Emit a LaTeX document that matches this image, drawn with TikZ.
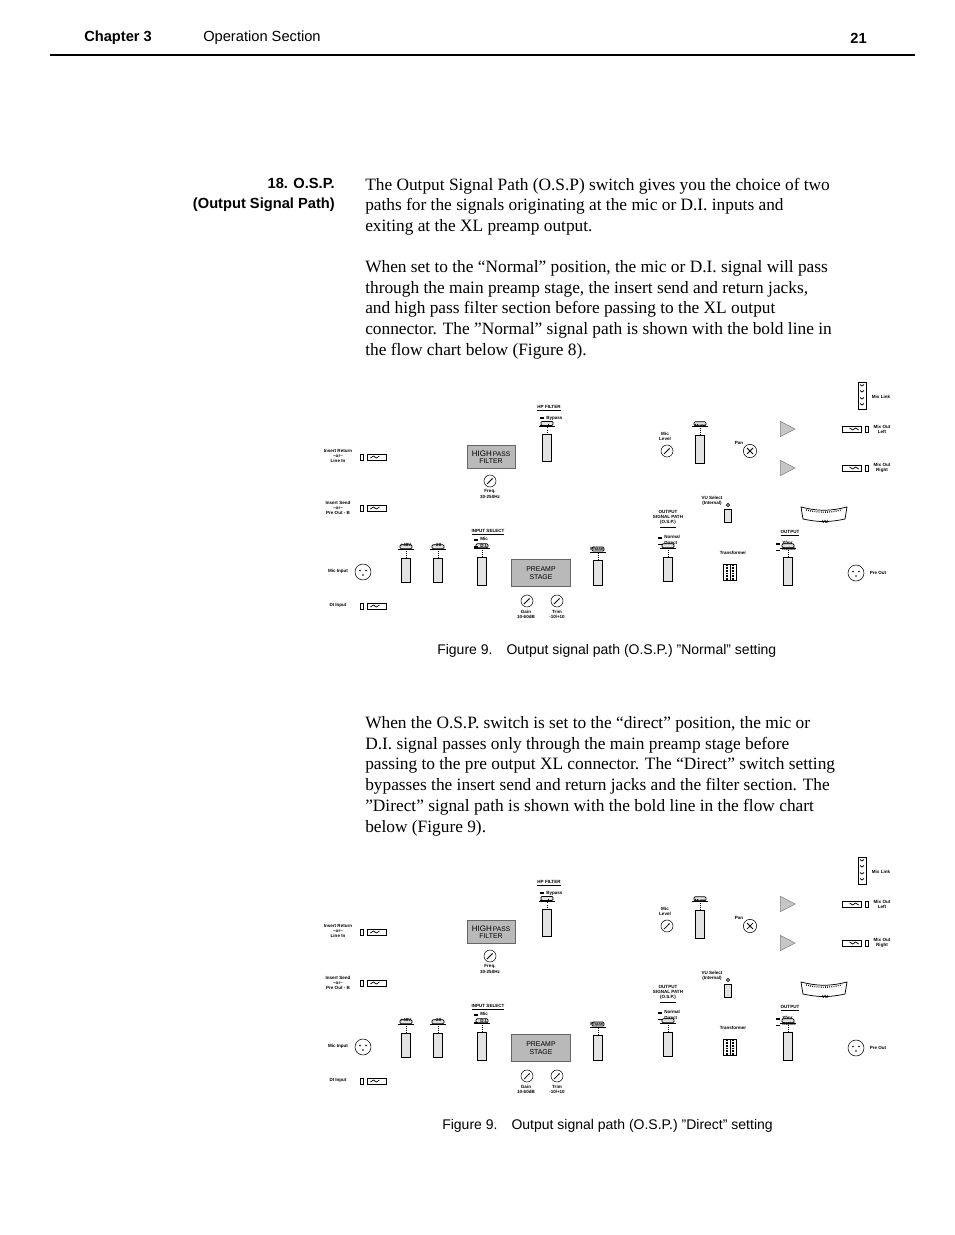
\documentclass[tikz,border=0pt]{standalone}
\usepackage{fontspec}
\setmainfont{Liberation Serif}
\setsansfont{Liberation Sans}
\usetikzlibrary{calc,arrows.meta,decorations.markings,shapes.geometric,backgrounds}

\tikzset{
  bold/.style={line width=2.6pt},
  thin/.style={line width=0.55pt},
  arr/.style={postaction={decorate,decoration={markings,mark=at position #1 with {\arrow{Triangle[length=7pt,width=7pt]}}}}},
  sw/.style={draw,line width=0.4pt,fill=gray!22,inner sep=0pt,minimum width=6.75pt,minimum height=20pt},
  stagebox/.style={draw=gray!80!black,line width=0.5pt,fill=gray!55,inner sep=0pt,align=center,
    font=\sffamily\fontsize{5.2}{5.6}\selectfont},
  jack/.style={draw,line width=0.4pt,fill=white,inner sep=0pt,minimum width=14pt,minimum height=4.5pt},
  xlr/.style={draw,circle,line width=0.4pt,fill=white,inner sep=0pt,minimum size=12pt},
  knob/.style={draw,circle,line width=0.4pt,fill=white,inner sep=0pt,minimum size=9pt},
  amp/.style={draw=gray,fill=gray!45,isosceles triangle,isosceles triangle apex angle=55,inner sep=0pt,minimum height=11pt},
  dot/.style={circle,fill,inner sep=0pt,minimum size=2.2pt},
  lbl/.style={font=\sffamily\bfseries\fontsize{3.4}{3.9}\selectfont,align=center,inner sep=0pt},
  bodyline/.style={anchor=west,inner sep=0pt,font=\fontsize{13}{15}\selectfont},
  capline/.style={anchor=west,inner sep=0pt,font=\sffamily\fontsize{10.5}{12}\selectfont}
}

% cap of a push switch
\newcommand\swcap[1]{
  \draw[thin,densely dotted] (#1.north) -- ++(0,-8);
  \draw[thin] ($(#1.north)+(-8,-8)$) -- ++(16,0);
  \draw[thin,fill=gray!22,rounded corners=0.8pt] ($(#1.north)+(-6,-9)$) rectangle ++(12,-4);
}
% jack, open end to the right
\newcommand\jackat[2]{
  \node[jack] (#1) at #2 {};
  \draw[thin] ($(#1.west)+(-7,-3)$) rectangle ++(3,6);
  \draw[thin] ($(#1.west)+(3,1)$) -- ++(3,-2) -- ++(3,2) -- ++(3,-2);
}
% jack, open end to the left
\newcommand\jackrat[2]{
  \node[jack] (#1) at #2 {};
  \draw[thin] ($(#1.east)+(4,-3)$) rectangle ++(3,6);
  \draw[thin] ($(#1.east)+(-3,1)$) -- ++(-3,-2) -- ++(-3,2) -- ++(-3,-2);
}
\newcommand\knobat[2]{
  \node[knob] (#1) at #2 {};
  \draw[thin,-{Latex[length=1.5pt]}] ($(#1)+(-3,3)$) -- ($(#1)+(3,-3)$);
}
\newcommand\xlrat[2]{
  \node[xlr] (#1) at #2 {};
  \fill ($(#1)+(-3,-1.5)$) circle (0.8) ($(#1)+(3,-1.5)$) circle (0.8) ($(#1)+(0,3)$) circle (0.8);
}
\newcommand\hpsym{\rule{1.5pt}{0.3pt}\rule{0.3pt}{1.5pt}}

% one flow chart, #1 = 1 for the normal path, 2 for the direct path
\newcommand\ospflow[1]{
%Jacks and connectors
\jackat{irj}{(377,457)}
\jackat{isj}{(377,508)}
\jackat{dij}{(377,606)}
\xlrat{micin}{(363,572)}
\xlrat{preout}{(856,573)}
\jackrat{mol}{(852,429)}
\jackrat{mor}{(852,468)}
%Stages
\node[stagebox,minimum width=36pt,minimum height=17pt] (hpf) at (491,457) {\fontsize{6}{6}\selectfont HIGH\fontsize{5}{5}\selectfont\,PASS\\FILTER};
\node[stagebox,minimum width=44pt,minimum height=20pt] (pre) at (541,573) {PREAMP\\STAGE};
%Switches
\node[sw,minimum height=20pt] (hpsw) at (547,448) {};
\node[sw,minimum height=18pt] (p48) at (406,570) {};
\node[sw,minimum height=18pt] (m20) at (438,570) {};
\node[sw,minimum height=21pt] (insw) at (482,571) {};
\node[sw,minimum height=19pt] (phase) at (598,573) {};
\node[sw,minimum height=18pt] (osp) at (668,569) {};
\node[sw,minimum height=21pt] (out) at (788,571) {};
\node[sw,minimum height=21pt] (mute) at (700,449) {};
\node[sw,minimum width=5pt,minimum height=10pt] (vusw) at (728,516) {};
\foreach \s in {hpsw,p48,m20,insw,phase,osp,out,mute} {\swcap{\s}}
%Knobs
\knobat{freq}{(490,481)}
\knobat{gain}{(527,601)}
\knobat{trim}{(557,601)}
\knobat{mlev}{(667,451)}
\node[knob,minimum size=10pt] (pan) at (750,451) {};
\draw[thin] ($(pan)+(-3,-3)$) -- ($(pan)+(3,3)$) ($(pan)+(-3,3)$) -- ($(pan)+(3,-3)$);
%Amps, transformer, meter
\node[amp] (ampl) at (785,429) {};
\node[amp] (ampr) at (785,468) {};
\node[draw,thin,fill=white,minimum width=10pt,minimum height=12pt,inner sep=0pt] (trans) at (730,572) {};
\draw[line width=1.2pt,dash pattern=on 0.5pt off 0.7pt] (727,565) -- (727,580) (733,565) -- (733,580);
\draw[thin] (730,565) -- (730,580);
\draw[thin,fill=white] (801,507) to[bend left=14] (847,507) -- (845,519) to[bend right=12] (803,519) -- cycle;
\draw[line width=1pt,dash pattern=on 0.6pt off 1pt] (806,510) to[bend left=12] (842,510);
\coordinate (vu) at (802,513);
\node[draw,thin,fill=white,minimum width=6pt,minimum height=20pt,inner sep=0pt] (mlink) at (862,396) {};
\foreach \y in {386,392,399,405} {\draw[thin] (860,\y-1.5) -- (862,\y) -- (864,\y-1.5);}
\node[draw,thin,circle,inner sep=0pt,minimum size=2.5pt,fill=white] (vutop) at (728,505) {};

\begin{pgfonlayer}{background}
%Common lines
\draw[bold,arr=.5] (micin.east) -- (p48.west);
\draw[bold] (p48) -- (insw);
\draw[bold,arr=.55] (insw.east) -- (pre.west);
\draw[bold,arr=.5] (pre.east) -- (phase.west);
\draw[bold,arr=.4] (osp.east |- 0,572) -- (trans.west);
\draw[bold,arr=.5] (trans.east) -- (out.west |- 0,572);
\draw[bold,arr=.55] (out.east |- 0,572) -- (preout.west);
\draw[thin] (452,457) |- (527,431) |- (543,444);
\draw[thin] (dij.east) -- (466,606) |- (478,580);
\draw[thin] (638,451) -- (mlev.west);
\draw[thin] (mlev.east) -- (mute.west);
\draw[thin] (mute.east) -- (pan.west);
\draw[thin] (728,451) -- (vutop);
\draw[thin] (vusw.east) -- (vu);
\draw[thin] (vusw.south) |- (703,527) -- (703,590) -| (762,580) -- (out.west |- 0,580);
\draw[thin] (pan.north) |- (ampl.west);
\draw[thin] (pan.south) |- (ampr.west);
\draw[gray,line width=1pt] (767,433) |- (ampr.west |- 0,463);
\draw[thin] (ampl.apex) -- (mol.west);
\draw[thin] (ampr.apex) -- (mor.west);
\draw[thin] (768,433) |- (mlink.west |- 0,386);
\draw[thin] (773,426) |- (mlink.west |- 0,392);
\draw[thin] (803,429) |- (mlink.west |- 0,399);
\draw[thin] (810,468) |- (mlink.west |- 0,405);
\ifnum#1=1
  %Normal path in bold
  \draw[bold,arr=.27] (irj.east) -- (hpf.west);
  \draw[bold,arr=.55] (hpf.east) -- (543,457);
  \draw[bold,arr=.48] (552,451) -- (640,451);
  \draw[bold,arr=.47] (638,451) -- (638,563);
  \draw[bold] (638,563) -- (osp.west |- 0,563);
  \draw[bold] (phase.east) -| (618,506.5);
  \draw[bold,arr=.18,arr=.92] (619.3,508) -- (395,508);
  \draw[bold,arr=.75] (395,508) |- (384,490) -- (384,461);
  \draw[bold] (395,508) -- (isj.east);
  \draw[thin] (618,572) -- (osp.west);
\else
  %Direct path in bold
  \draw[bold,arr=.5] (phase.east) -- (osp.west |- 0,572);
  \draw[thin] (irj.east) -- (hpf.west);
  \draw[thin] (hpf.east) -- (543,457);
  \draw[thin] (552,451) -- (638,451) |- (osp.west |- 0,563);
  \draw[thin] (384,461) -- (384,490) -| (395,508);
  \draw[thin] (isj.east) -- (618,508) -- (618,572);
  \node[dot] at (452,457) {};
  \node[dot] at (638,451) {};
  \node[dot] at (395,508) {};
  \node[dot] at (618,572) {};
\fi
\node[dot] at (728,451) {};
\node[dot] at (803,429) {};
\node[dot] at (810,468) {};
\end{pgfonlayer}

%Labels
\node[lbl] at (338,456) {Insert Return\\--or--\\Line In};
\node[lbl] at (338,508) {Insert Send\\--or--\\Pre Out - B};
\node[lbl] at (338,571) {Mic Input};
\node[lbl] at (338,605) {DI Input};
\node[lbl] at (549,408) {\underline{HP FILTER}};
\node[lbl,anchor=west] at (540,418) {\rule{3pt}{1.5pt}\, Bypass};
\node[lbl,anchor=west] at (540,425) {\rule{3pt}{0.8pt}\, \hpsym};
\node[lbl] at (490,494) {Freq.\\30-250Hz};
\node[lbl] at (406,545) {+48V};
\node[lbl] at (438,545) {-20};
\node[lbl] at (488,532) {\underline{INPUT SELECT}};
\node[lbl,anchor=west] at (474,539) {\rule{3pt}{1.5pt}\, Mic};
\node[lbl,anchor=west] at (474,546) {\rule{3pt}{0.8pt}\, D.I.};
\node[lbl] at (597,549) {Phase};
\node[lbl] at (526,614) {Gain\\10-60dB};
\node[lbl] at (557,614) {Trim\\-10/+10};
\node[lbl] at (665,436) {Mic\\Level};
\node[lbl] at (700,426) {Mute};
\node[lbl] at (739,443) {Pan};
\node[lbl] at (881,397) {Mix Link};
\node[lbl] at (882,429) {Mix Out\\Left};
\node[lbl] at (882,468) {Mix Out\\Right};
\node[lbl] at (712,501) {VU Select\\(Internal)};
\node[lbl] at (825,522) {VU};
\node[lbl] at (668,519) {OUTPUT\\SIGNAL PATH\\\underline{(O.S.P.)}};
\node[lbl,anchor=west] at (658,537) {\rule{3pt}{1.5pt}\, Normal};
\node[lbl,anchor=west] at (658,543) {\rule{3pt}{0.8pt}\, Direct};
\node[lbl] at (733,553) {Transformer};
\node[lbl] at (790,533) {\underline{OUTPUT}};
\node[lbl,anchor=west] at (776,543) {\rule{3pt}{1.5pt}\, Xfmr};
\node[lbl,anchor=west] at (776,549) {\rule{3pt}{0.8pt}\, Active};
\node[lbl] at (878,573) {Pre Out};
}

\begin{document}
\begin{tikzpicture}[x=0.75pt,y=0.75pt,yscale=-1,xscale=1]
\useasboundingbox[fill=white] (0,0) rectangle (954,1235);

% Page head
\node[anchor=west,inner sep=0pt,font=\sffamily\bfseries\fontsize{11}{13}\selectfont] (chap) at (84,38) {Chapter 3};
\node[anchor=west,inner sep=0pt,font=\sffamily\fontsize{11}{13}\selectfont] (sect) at (203,38) {Operation Section};
\node[anchor=east,inner sep=0pt,font=\sffamily\bfseries\fontsize{11}{13}\selectfont] (pnum) at (867,38) {21};
\draw[line width=2.2pt] (50,55) -- (915,55);

% Side heading
\node[anchor=east,inner sep=0pt,align=right,font=\sffamily\bfseries\fontsize{11}{15.4}\selectfont] (head) at (335,195) {18. O.S.P.\\(Output Signal Path)};

% Body text
\node[bodyline] (t1) at (365,186) {The Output Signal Path (O.S.P) switch gives you the choice of two};
\node[bodyline] (t2) at (365,206) {paths for the signals originating at the mic or D.I. inputs and};
\node[bodyline] (t3) at (365,227) {exiting at the XL preamp output.};
\node[bodyline] (t4) at (365,268) {When set to the “Normal” position, the mic or D.I. signal will pass};
\node[bodyline] (t5) at (365,289) {through the main preamp stage, the insert send and return jacks,};
\node[bodyline] (t6) at (365,309) {and high pass filter section before passing to the XL output};
\node[bodyline] (t7) at (365,330) {connector. The "Normal" signal path is shown with the bold line in};
\node[bodyline] (t8) at (365,351) {the flow chart below (Figure 8).};

\begin{scope}
\ospflow{1}
\end{scope}
\node[capline] (cap1) at (437,651) {Figure 9.\quad Output signal path (O.S.P.) "Normal" setting};

\node[bodyline] (u1) at (365,724) {When the O.S.P. switch is set to the “direct” position, the mic or};
\node[bodyline] (u2) at (365,745) {D.I. signal passes only through the main preamp stage before};
\node[bodyline] (u3) at (365,765) {passing to the pre output XL connector. The “Direct” switch setting};
\node[bodyline] (u4) at (365,786) {bypasses the insert send and return jacks and the filter section. The};
\node[bodyline] (u5) at (365,807) {"Direct" signal path is shown with the bold line in the flow chart};
\node[bodyline] (u6) at (365,828) {below (Figure 9).};

\begin{scope}[shift={(0,475)}]
\ospflow{2}
\end{scope}
\node[capline] (cap2) at (442,1126) {Figure 9.\quad Output signal path (O.S.P.) "Direct" setting};

\end{tikzpicture}
\end{document}
